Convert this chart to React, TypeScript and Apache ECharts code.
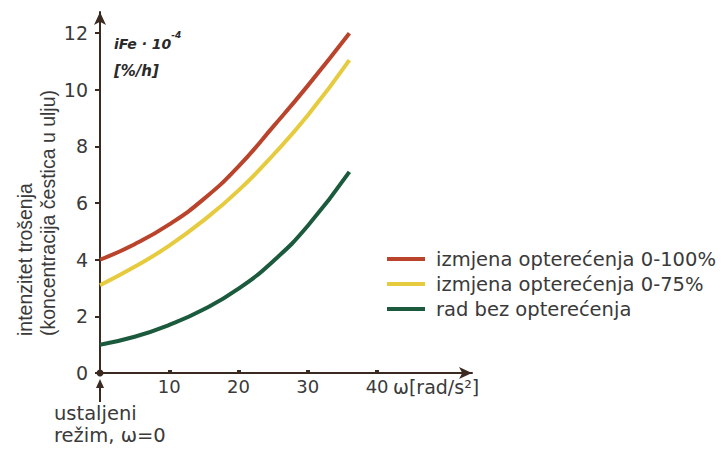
import React, { useEffect, useRef } from "react";
import * as echarts from "echarts";

const omega = [0, 5, 10, 15, 20, 25, 30, 36];
const red100 = [4.0, 4.55, 5.25, 6.15, 7.3, 8.7, 10.15, 12.0];
const yellow75 = [3.1, 3.75, 4.5, 5.4, 6.45, 7.7, 9.1, 11.05];
const greenNoLoad = [1.0, 1.28, 1.7, 2.25, 2.98, 3.95, 5.2, 7.1];
const seriesNames = [
  "izmjena opterećenja 0-100%",
  "izmjena opterećenja 0-75%",
  "rad bez opterećenja",
];
const xTicks = [0, 10, 20, 30, 40];
const xLabels = [10, 20, 30, 40];
const yTicks = [0, 2, 4, 6, 8, 10, 12];

const FONT = "DejaVu Sans, sans-serif";
const FONT_N = "Liberation Sans, Arial, sans-serif";
const AXIS = "#3b2a20";
const TXT = "#3a3a3a";

export default function App() {
  const ref = useRef<HTMLDivElement>(null);
  useEffect(() => {
    const chart = echarts.init(ref.current!, null, { renderer: "svg" });
    const toPairs = (ys: number[]) => omega.map((x, i) => [x, ys[i]]);
    chart.setOption({
      animation: false,
      textStyle: { fontFamily: FONT },
      grid: { left: 100, right: 252, top: 12, bottom: 77 },
      legend: {
        orient: "vertical",
        left: 382,
        top: 244,
        icon: "rect",
        itemWidth: 38,
        itemHeight: 4,
        itemGap: 5,
        textStyle: { fontSize: 19.5, color: TXT, fontFamily: FONT, lineHeight: 20, padding: [0, 0, 0, 6] },
        data: seriesNames,
      },
      xAxis: {
        type: "value",
        min: 0,
        max: 53.7,
        splitLine: { show: false },
        axisLine: {
          onZero: false,
          symbol: ["none", "arrow"],
          symbolSize: [9, 13],
          lineStyle: { color: AXIS, width: 2 },
        },
        axisTick: { customValues: xTicks, length: 3, inside: true, lineStyle: { color: AXIS, width: 4 } },
        axisLabel: { customValues: xLabels, fontSize: 18, color: TXT, margin: 4 },
      },
      yAxis: {
        type: "value",
        min: 0,
        max: 12.75,
        splitLine: { show: false },
        axisLine: {
          symbol: ["none", "arrow"],
          symbolSize: [9, 13],
          lineStyle: { color: AXIS, width: 2 },
        },
        axisTick: { customValues: yTicks, length: 5, lineStyle: { color: AXIS, width: 2 } },
        axisLabel: { customValues: yTicks, fontSize: 19, color: TXT, margin: 12 },
      },
      series: [
        { name: seriesNames[0], type: "line", smooth: true, showSymbol: false, data: toPairs(red100), color: "#b9442b", lineStyle: { width: 4 } },
        { name: seriesNames[1], type: "line", smooth: true, showSymbol: false, data: toPairs(yellow75), color: "#e5cb3d", lineStyle: { width: 4 } },
        { name: seriesNames[2], type: "line", smooth: true, showSymbol: false, data: toPairs(greenNoLoad), color: "#1c5a3d", lineStyle: { width: 4 } },
      ],
      graphic: [
        {
          type: "text",
          x: 114,
          y: 30,
          style: {
            text: "{a|iFe · 10}{s|-4}\n{b|[%/h]}",
            rich: {
              a: { fontSize: 14, fontWeight: "bold", fontStyle: "italic", fill: "#2a2a2a", fontFamily: FONT, lineHeight: 27 },
              s: { fontSize: 9, fontWeight: "bold", fontStyle: "italic", fill: "#2a2a2a", fontFamily: FONT, verticalAlign: "top", lineHeight: 27 },
              b: { fontSize: 15, fontWeight: "bold", fontStyle: "italic", fill: "#2a2a2a", fontFamily: FONT, lineHeight: 27 },
            },
          },
        },
        {
          type: "text",
          x: 36,
          y: 336,
          rotation: Math.PI / 2,
          style: {
            text: "intenzitet trošenja\n(koncentracija čestica u ulju)",
            fontSize: 19.5,
            lineHeight: 23,
            fill: TXT,
            fontFamily: FONT_N,
            align: "left",
            verticalAlign: "middle",
          },
        },
        {
          type: "text",
          x: 393,
          y: 387,
          style: { text: "ω[rad/s²]", fontSize: 19, fill: TXT, fontFamily: FONT, verticalAlign: "middle" },
        },
        {
          type: "text",
          x: 54,
          y: 402,
          style: { text: "ustaljeni\nrežim, ω=0", fontSize: 19.5, lineHeight: 22, fill: TXT, fontFamily: FONT },
        },
        {
          type: "line",
          shape: { x1: 100, y1: 402, x2: 100, y2: 386 },
          style: { stroke: AXIS, lineWidth: 2 },
        },
        {
          type: "polygon",
          shape: { points: [[96, 388], [104, 388], [100, 379]] },
          style: { fill: AXIS },
        },
        { type: "circle", shape: { cx: 100, cy: 373, r: 3.5 }, style: { fill: AXIS } },
      ],
    });
    return () => chart.dispose();
  }, []);
  return <div ref={ref} style={{ position: "absolute", left: 0, top: 0, width: 724, height: 450 }} />;
}
